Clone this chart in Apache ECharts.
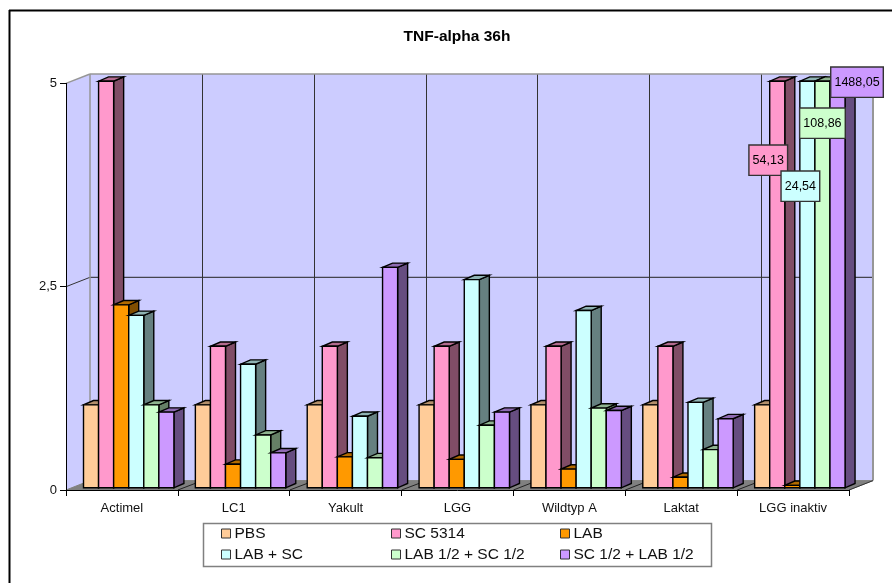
<!DOCTYPE html>
<html>
<head>
<meta charset="utf-8">
<style>html,body{margin:0;padding:0;background:#fff}#c{width:892px;height:583px}</style>
<script src="https://cdn.jsdelivr.net/npm/echarts@6/dist/echarts.min.js"></script>
</head>
<body>
<div id="c"></div>
<script>
var categories = ['Actimel','LC1','Yakult','LGG','Wildtyp A','Laktat','LGG inaktiv'];
var yTicks = [0, 2.5, 5];
var axisMax = 5;
var PBS = [1.02,1.02,1.02,1.02,1.02,1.02,1.02];
var SC5314 = [5,1.74,1.74,1.74,1.74,1.74,54.13];
var LAB = [2.25,0.29,0.38,0.35,0.23,0.13,0.03];
var LABSC = [2.12,1.52,0.88,2.56,2.18,1.05,24.54];
var LABHalf = [1.02,0.65,0.37,0.77,0.98,0.47,108.86];
var SCHalf = [0.93,0.43,2.71,0.93,0.95,0.85,1488.05];

var seriesDefs = [
  {name:'PBS', values:PBS, front:'#FFCC99', top:'#B38F6B', side:'#80664D'},
  {name:'SC 5314', values:SC5314, front:'#FF99CC', top:'#B36B8F', side:'#804D66'},
  {name:'LAB', values:LAB, front:'#FF9900', top:'#B36B00', side:'#804D00'},
  {name:'LAB + SC', values:LABSC, front:'#CCFFFF', top:'#8FB3B3', side:'#668080'},
  {name:'LAB 1/2 + SC 1/2', values:LABHalf, front:'#CCFFCC', top:'#8FB38F', side:'#668066'},
  {name:'SC 1/2 + LAB 1/2', values:SCHalf, front:'#CC99FF', top:'#8F6BB3', side:'#664D80'}
];
// label placement relative to the top of its bar (style only)
var labelShift = {'SC 5314':[-9,79],'LAB + SC':[-7,105],'LAB 1/2 + SC 1/2':[0,42],'SC 1/2 + LAB 1/2':[19.5,1]};

var FONT = '"Liberation Sans", Arial, sans-serif';
var WALL_DX = 24, WALL_DY = -9.4;
var BAR_DX = 10, BAR_DY = -4.3;
var BAR_OX = 7, BAR_OY = -2.2;
var GAP_FRAC = 0.1565, BAR_FRAC = 0.1347;

function poly(pts, fill, z2, stroke, lw){
  return {type:'polygon', z2:z2||0, shape:{points:pts}, style:{fill:fill, stroke:stroke||'#000', lineWidth:lw==null?1.4:lw}};
}
function line(a,b,color,w,z2){
  return {type:'line', z2:z2||0, shape:{x1:a[0],y1:a[1],x2:b[0],y2:b[1]}, style:{stroke:color,lineWidth:w,fill:null}};
}

function renderWalls(params, api){
  var band = api.size([1,0])[0];
  var n = categories.length;
  var o = api.coord([0,0]);
  var L = o[0]-band/2, R = L+band*n, B = o[1], T = api.coord([0,axisMax])[1];
  var BL = L+WALL_DX, BR = R+WALL_DX, BB = B+WALL_DY, BT = T+WALL_DY;
  var ch = [];
  ch.push(poly([[BL,BT],[BR,BT],[BR,BB],[BL,BB]],'#CCCCFF',0,'none',0));
  ch.push(poly([[L,T],[BL,BT],[BL,BB],[L,B]],'#CCCCFF',0,'none',0));
  ch.push(poly([[L,B],[R,B],[BR,BB],[BL,BB]],'#808080',1,'#808080',1));
  yTicks.forEach(function(t){
    if(t===0||t===axisMax) return;
    var y = api.coord([0,t])[1];
    ch.push(line([L,y],[BL,y+WALL_DY],'#333',1,2));
    ch.push(line([BL,y+WALL_DY],[BR,y+WALL_DY],'#222',1,2));
  });
  for(var k=1;k<n;k++){
    var x = Math.round(BL+band*k)+0.5;
    ch.push(line([x,BT],[x,BB],'#333',1,2));
    ch.push(line([L+band*k,B],[x,BB],'#222',1,3));
  }
  ch.push(line([L,T],[BL,BT],'#969696',1.5,3));
  ch.push(line([BL,BT],[BR,BT],'#969696',1.5,3));
  ch.push(line([BL,BT],[BL,BB],'#969696',1.5,3));
  ch.push(line([BR,BT],[BR,BB],'#969696',2,3));
  ch.push(line([R,B],[BR,BB],'#333',1,3));
  return {type:'group', children:ch};
}

function makeBarRenderer(def, idx){
  return function(params, api){
    var i = api.value(0), v = api.value(1);
    var band = api.size([1,0])[0];
    var c = api.coord([i,0]);
    var w = band*BAR_FRAC;
    var x0 = c[0]-band/2+band*GAP_FRAC+w*idx;
    var x1 = x0+w;
    var yB = c[1]+BAR_OY;
    var yT = api.coord([i,Math.min(v,axisMax)])[1]+BAR_OY;
    var ch = [
      poly([[x1,yT],[x1+BAR_DX,yT+BAR_DY],[x1+BAR_DX,yB+BAR_DY],[x1,yB]],def.side),
      poly([[x0,yT],[x1,yT],[x1+BAR_DX,yT+BAR_DY],[x0+BAR_DX,yT+BAR_DY]],def.top),
      poly([[x0,yT],[x1,yT],[x1,yB],[x0,yB]],def.front)
    ];
    if(v>axisMax){
      var s = labelShift[def.name]||[0,0];
      ch.push({type:'text', z2:100+idx, x:(x0+x1)/2+s[0], y:yT+s[1],
        style:{text:String(v).replace('.',','), fill:'#000', font:'12.5px '+FONT, align:'center', verticalAlign:'middle',
          backgroundColor:def.front, borderColor:'#333', borderWidth:1.4, padding:[8,3,8,3]}});
    }
    return {type:'group', children:ch};
  };
}

var series = [{
  type:'custom', name:'walls', silent:true, z:1, data:[[0,0]], renderItem:renderWalls, encode:{x:0,y:1}
}];
seriesDefs.forEach(function(d,idx){
  series.push({
    type:'custom', name:d.name, z:2, silent:true,
    itemStyle:{color:d.front},
    encode:{x:0,y:1},
    data:d.values.map(function(v,i){return [i,v];}),
    renderItem:makeBarRenderer(d,idx)
  });
});

function legendColumn(names,left){
  return {
    show:true, orient:'vertical', left:left, top:525.5, icon:'rect', itemWidth:9, itemHeight:9, itemGap:5,
    selectedMode:false, data:names, padding:0, z:6,
    itemStyle:{borderColor:'#333',borderWidth:1},
    textStyle:{fontFamily:FONT,fontSize:15.5,color:'#111',padding:[0,0,0,-1]}
  };
}

var chart = echarts.init(document.getElementById('c'), null, {renderer:'canvas'});
chart.setOption({
  animation:false,
  backgroundColor:'#fff',
  title:{text:'TNF-alpha 36h', left:452, top:24, textAlign:'center',
    textStyle:{fontFamily:FONT,fontSize:15.5,fontWeight:'bold',color:'#000'}},
  legend:[
    legendColumn(['PBS','LAB + SC'],221),
    legendColumn(['SC 5314','LAB 1/2 + SC 1/2'],391),
    legendColumn(['LAB','SC 1/2 + LAB 1/2'],560)
  ],
  grid:{left:66, right:43, top:83.4, bottom:93, containLabel:false},
  xAxis:{type:'category', data:categories, boundaryGap:true, z:5,
    axisLine:{lineStyle:{color:'#000',width:1}},
    axisTick:{show:true,length:6,alignWithLabel:false,lineStyle:{color:'#000'}},
    axisLabel:{fontFamily:FONT,fontSize:13,color:'#111',margin:12,interval:0},
    splitLine:{show:false}},
  yAxis:{type:'value', min:0, max:axisMax, interval:2.5, z:5,
    axisLine:{show:true,lineStyle:{color:'#000',width:1}},
    axisTick:{show:true,length:6,lineStyle:{color:'#000'}},
    axisLabel:{fontFamily:FONT,fontSize:13,color:'#111',margin:9,
      formatter:function(v){return String(v).replace('.',',');}},
    splitLine:{show:false}},
  series:series,
  graphic:[
    {type:'line', z:0, shape:{x1:9.5,y1:10,x2:9.5,y2:583}, style:{stroke:'#000',lineWidth:2}},
    {type:'line', z:0, shape:{x1:9,y1:10.5,x2:892,y2:10.5}, style:{stroke:'#000',lineWidth:2}},
    {type:'rect', z:0, shape:{x:203.5,y:523.5,width:508,height:43}, style:{fill:'#fff',stroke:'#808080',lineWidth:1.5}}
  ]
});
</script>
</body>
</html>
